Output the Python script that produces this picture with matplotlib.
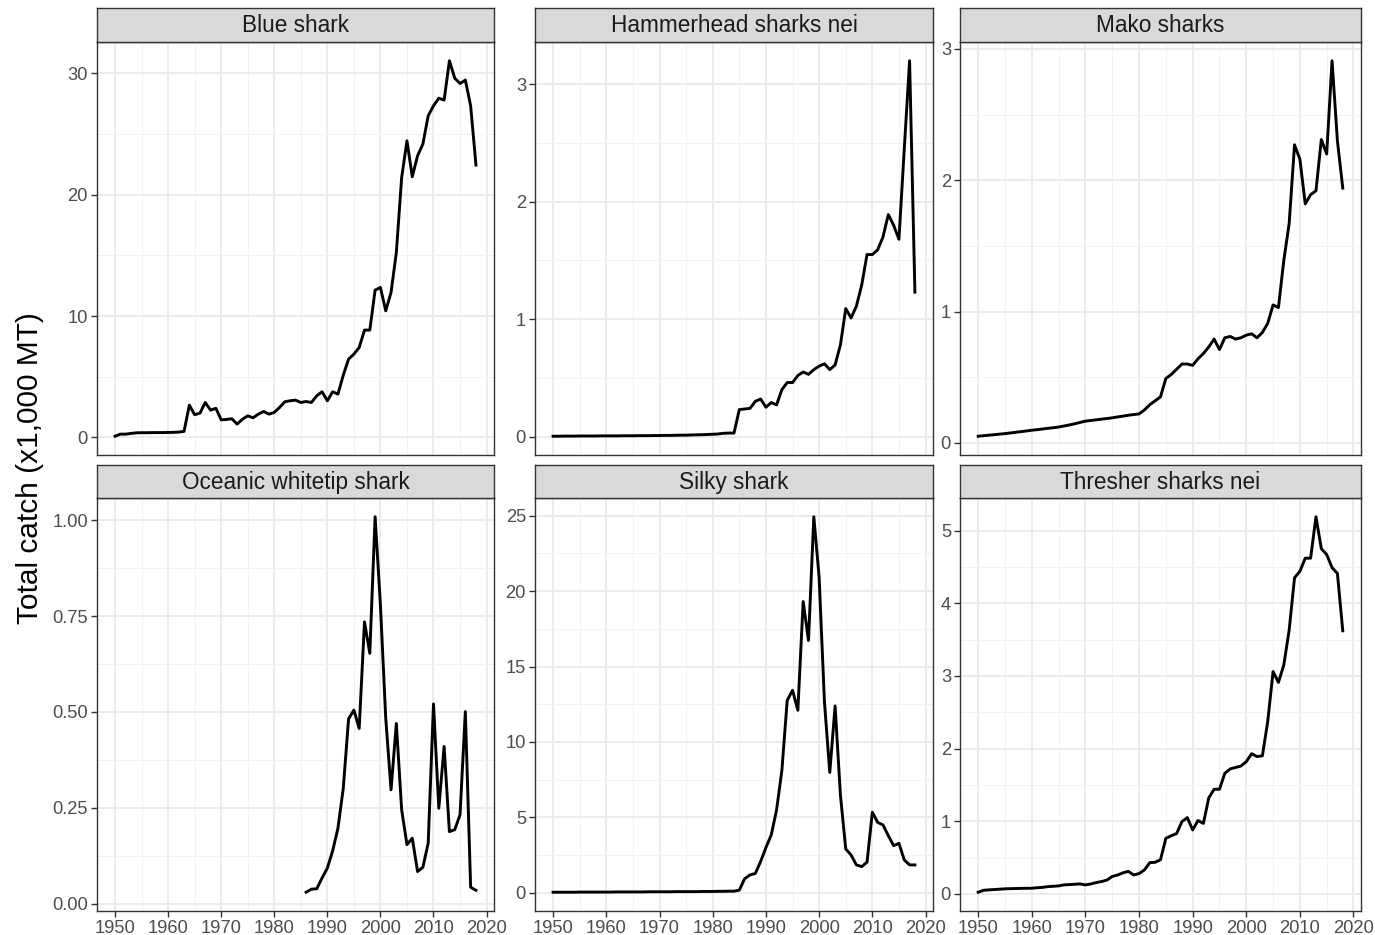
#Faceted catch time series for six pelagic shark species
#Packages
import matplotlib
matplotlib.use("Agg")
import matplotlib.pyplot as plt
from matplotlib.ticker import MultipleLocator
import numpy as np

plt.rcParams['font.family'] = ['Liberation Sans', 'DejaVu Sans']

#Data (x1,000 MT)
species = ["Blue shark", "Hammerhead sharks nei", "Mako sharks",
           "Oceanic whitetip shark", "Silky shark", "Thresher sharks nei"]

years_blue = list(range(1950, 2019))
catch_blue = [0.1, 0.27, 0.27, 0.33, 0.38, 0.39, 0.39, 0.40, 0.40, 0.40, 0.41, 0.42,
              0.44, 0.5, 2.66, 1.87, 2.0, 2.88, 2.25, 2.4,
              1.45, 1.48, 1.54, 1.1, 1.5, 1.78, 1.62, 1.92, 2.14, 1.92,
              2.06, 2.47, 2.94, 3.02, 3.07, 2.88, 2.96, 2.88, 3.43, 3.76,
              3.02, 3.76, 3.57, 5.13, 6.45, 6.86, 7.41, 8.84, 8.84, 12.13,
              12.35, 10.43, 11.94, 15.23, 21.4, 24.43, 21.47, 23.2, 24.16, 26.49,
              27.31, 27.94, 27.78, 31.02, 29.59, 29.15, 29.43, 27.31, 22.43]

years_hammer = list(range(1950, 2019))
catch_hammer = [0.003, 0.003, 0.004, 0.004, 0.004, 0.005, 0.005, 0.005, 0.005, 0.006,
                0.006, 0.006, 0.006, 0.007, 0.007, 0.007, 0.008, 0.008, 0.008, 0.009,
                0.009, 0.010, 0.010, 0.011, 0.012, 0.012, 0.014, 0.015, 0.016, 0.018,
                0.02, 0.022, 0.028, 0.03, 0.03,
                0.23, 0.235, 0.24, 0.30, 0.32, 0.25, 0.29, 0.27, 0.40, 0.46,
                0.46, 0.52, 0.55, 0.53, 0.57, 0.60, 0.62, 0.57, 0.61, 0.78,
                1.09, 1.01, 1.11, 1.29, 1.55, 1.55, 1.59, 1.70, 1.89, 1.80,
                1.68, 2.45, 3.20, 1.23]

years_mako = list(range(1950, 2019))
catch_mako = [0.05, 0.054, 0.058, 0.062, 0.066, 0.07, 0.075, 0.08, 0.085, 0.09,
              0.096, 0.10, 0.105, 0.11, 0.115, 0.12, 0.128, 0.136, 0.145, 0.155,
              0.165, 0.17, 0.175, 0.18, 0.185, 0.19, 0.197, 0.203, 0.21, 0.215,
              0.22, 0.25, 0.29, 0.32, 0.35, 0.49, 0.52, 0.56, 0.60, 0.60,
              0.59, 0.64, 0.68, 0.73, 0.79, 0.71, 0.80, 0.81, 0.79, 0.80,
              0.82, 0.83, 0.80, 0.84, 0.91, 1.05, 1.03, 1.39, 1.67, 2.27,
              2.16, 1.82, 1.89, 1.92, 2.31, 2.20, 2.91, 2.30, 1.94]

years_oceanic = list(range(1986, 2019))
catch_oceanic = [0.030, 0.038, 0.039, 0.067,
                 0.093, 0.138, 0.197, 0.301, 0.482, 0.505, 0.457, 0.735, 0.653, 1.009,
                 0.779, 0.484, 0.297, 0.470, 0.245, 0.154, 0.171, 0.084, 0.095, 0.158,
                 0.521, 0.249, 0.410, 0.188, 0.193, 0.232, 0.501, 0.043, 0.035]

years_silky = list(range(1950, 2019))
catch_silky = [0.04, 0.04, 0.04, 0.04, 0.04, 0.05, 0.05, 0.05, 0.05, 0.05,
               0.05, 0.05, 0.06, 0.06, 0.06, 0.06, 0.06, 0.06, 0.07, 0.07,
               0.07, 0.07, 0.07, 0.08, 0.08, 0.08, 0.08, 0.08, 0.09, 0.09,
               0.09, 0.10, 0.10, 0.11, 0.11, 0.18, 0.93, 1.19, 1.28, 2.07,
               3.0, 3.84, 5.49, 8.13, 12.76, 13.43, 12.1, 19.31, 16.73, 24.93,
               20.92, 12.65, 7.98, 12.39, 6.48, 2.91, 2.51, 1.85, 1.74, 2.03,
               5.34, 4.67, 4.5, 3.79, 3.13, 3.28, 2.18, 1.85, 1.85]

years_thresher = list(range(1950, 2019))
catch_thresher = [0.023, 0.05, 0.055, 0.06, 0.065, 0.07, 0.072, 0.074, 0.076, 0.077,
                  0.078, 0.085, 0.09, 0.10, 0.105, 0.11, 0.124, 0.128, 0.133, 0.137,
                  0.124, 0.137, 0.156, 0.17, 0.19, 0.24, 0.26, 0.29, 0.31, 0.26,
                  0.28, 0.33, 0.43, 0.435, 0.47, 0.765, 0.80, 0.83, 0.995, 1.05,
                  0.88, 1.01, 0.97, 1.32, 1.44, 1.44, 1.66, 1.72, 1.74, 1.76,
                  1.82, 1.93, 1.89, 1.90, 2.37, 3.06, 2.91, 3.15, 3.63, 4.35,
                  4.44, 4.62, 4.62, 5.19, 4.75, 4.67, 4.49, 4.41, 3.62]

series = [(years_blue, catch_blue), (years_hammer, catch_hammer), (years_mako, catch_mako),
          (years_oceanic, catch_oceanic), (years_silky, catch_silky), (years_thresher, catch_thresher)]
y_steps = [10, 1, 1, 0.25, 5, 1]
y_fmt = ["{:.0f}", "{:.0f}", "{:.0f}", "{:.2f}", "{:.0f}", "{:.0f}"]

#Layout in pixels (figure 1375 x 935)
W, H = 1375., 935.
cols = [(97, 494), (535, 933), (960, 1361)]
rows = [(8, 42, 455), (465, 498, 911)]   # strip top, plot top, plot bottom

fig = plt.figure(figsize=(13.75, 9.35), dpi=100)
border = '#333333'

for i, (name, (yrs, vals)) in enumerate(zip(species, series)):
    r, c = divmod(i, 3)
    x0, x1 = cols[c]
    st, pt, pb = rows[r]
    ax = fig.add_axes([x0/W, 1-pb/H, (x1-x0)/W, (pb-pt)/H])
    sx = fig.add_axes([x0/W, 1-pt/H, (x1-x0)/W, (pt-st)/H])
    #Strip
    sx.set_facecolor('#D9D9D9')
    sx.set_xticks([]); sx.set_yticks([])
    for s in sx.spines.values():
        s.set_color(border); s.set_linewidth(1.0)
    sx.text(0.5, 0.48, name, ha='center', va='center', fontsize=16.3,
            color='#1A1A1A', transform=sx.transAxes)
    #Line
    ax.plot(yrs, vals, color='black', lw=2.1, solid_joinstyle='round', zorder=3)
    ax.set_xlim(1946.6, 2021.4)
    lo, hi = min(vals), max(vals)
    pad = 0.05*(hi-lo)
    ax.set_ylim(lo-pad, hi+pad)
    ax.xaxis.set_major_locator(MultipleLocator(10))
    ax.xaxis.set_minor_locator(MultipleLocator(5))
    ax.yaxis.set_major_locator(MultipleLocator(y_steps[i]))
    ax.yaxis.set_minor_locator(MultipleLocator(y_steps[i]/2))
    ax.yaxis.set_major_formatter(plt.FuncFormatter(lambda v, p, f=y_fmt[i]: f.format(v)))
    ax.grid(which='major', color='#EBEBEB', lw=1.3, zorder=0)
    ax.grid(which='minor', color='#F2F2F2', lw=0.7, zorder=0)
    ax.set_axisbelow(True)
    ax.tick_params(which='major', length=4.5, width=1.0, color=border,
                   labelsize=13.2, labelcolor='#4D4D4D', pad=2)
    ax.tick_params(which='minor', length=0)
    if r == 0:
        ax.tick_params(axis='x', which='major', length=0, labelbottom=False)
    for s in ax.spines.values():
        s.set_color(border); s.set_linewidth(1.0)

fig.text(0.022, 0.4995, "Total catch (x1,000 MT)", rotation=90, ha='center', va='center',
         fontsize=21.5, color='black')

plt.savefig("out.png", dpi=100)
